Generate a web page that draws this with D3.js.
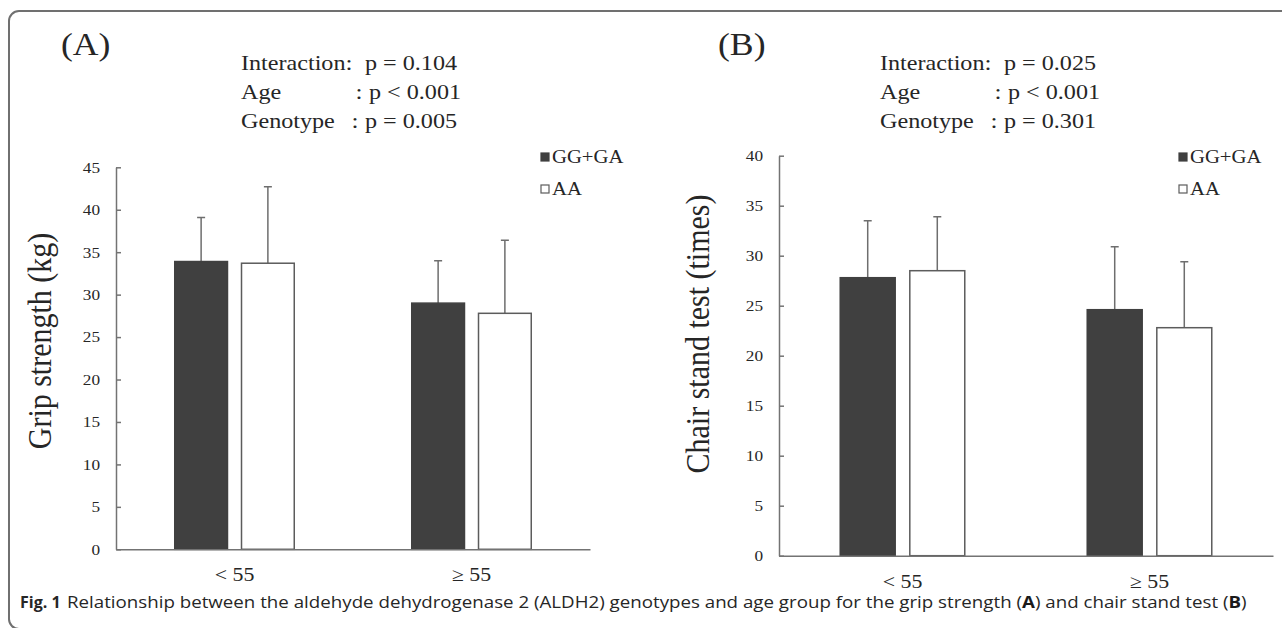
<!DOCTYPE html>
<html>
<head>
<meta charset="utf-8">
<script src="https://cdn.jsdelivr.net/npm/d3@7"></script>
<style>
  body { margin: 0; background: #fff; }
  svg { display: block; }
  text { font-family: "Liberation Serif", "Times New Roman", serif; fill: #262626; }
</style>
</head>
<body>
<div id="chart"></div>
<script>
// data
const ageGroups = ["< 55", "≥ 55"];
const genotypes = ["GG+GA", "AA"];

const gripMeanGG = [33.9, 29.0];
const gripMeanAA = [33.7, 27.8];
const gripSdGG = [5.2, 5.0];
const gripSdAA = [9.0, 8.6];

const chairMeanGG = [27.8, 24.6];
const chairMeanAA = [28.5, 22.8];
const chairSdGG = [5.7, 6.3];
const chairSdAA = [5.4, 6.6];

const gripTicks = [0, 5, 10, 15, 20, 25, 30, 35, 40, 45];
const chairTicks = [0, 5, 10, 15, 20, 25, 30, 35, 40];

const statLabels = ["Interaction", "Age", "Genotype"];
const gripP = ["p = 0.104", "p < 0.001", "p = 0.005"];
const chairP = ["p = 0.025", "p < 0.001", "p = 0.301"];

const width = 1282, height = 628;
const S = 1.15; // the figure text is a bit stretched sideways

const svg = d3.select("#chart").append("svg")
    .attr("width", width)
    .attr("height", height);

// frame round the figure
svg.append("rect")
    .attr("x", 9).attr("y", 11)
    .attr("width", 1320).attr("height", 618)
    .attr("rx", 10)
    .attr("fill", "none")
    .attr("stroke", "#707070")
    .attr("stroke-width", 2);

function stretchText(g, x, y, str, size) {
  return g.append("text")
      .attr("transform", `translate(${x},${y}) scale(${S},1)`)
      .style("font-size", size + "px")
      .text(str);
}

function rows(meanGG, meanAA, sdGG, sdAA) {
  return ageGroups.map((age, i) => ({
    age: age,
    bars: [
      { g: genotypes[0], mean: meanGG[i], sd: sdGG[i] },
      { g: genotypes[1], mean: meanAA[i], sd: sdAA[i] }
    ]
  }));
}

const panels = [
  { letter: "(A)", letterX: 61, statX: 241, pvals: gripP,
    title: "Grip strength (kg)", titleX: 51, titleY: 341,
    x0: 116, x1: 590, yTop: 167.3, yBottom: 549.3, yMax: 45, ticks: gripTicks,
    legendX: 541,
    data: rows(gripMeanGG, gripMeanAA, gripSdGG, gripSdAA) },
  { letter: "(B)", letterX: 718, statX: 880, pvals: chairP,
    title: "Chair stand test (times)", titleX: 709, titleY: 334,
    x0: 779, x1: 1273, yTop: 155.7, yBottom: 555.7, yMax: 40, ticks: chairTicks,
    legendX: 1179,
    data: rows(chairMeanGG, chairMeanAA, chairSdGG, chairSdAA) }
];

// colon and value offsets follow the spacing of the original lines
const colonDx = [108, 118, 114];
const valueDx = [124, 128, 124];

panels.forEach(p => {
  const g = svg.append("g");

  // panel letter and p values
  stretchText(g, p.letterX, 55, p.letter, 31);
  statLabels.forEach((lab, i) => {
    const y = 70 + i * 29;
    stretchText(g, p.statX, y, lab, 21);
    stretchText(g, p.statX + colonDx[i], y, ":", 22).attr("text-anchor", "middle");
    stretchText(g, p.statX + valueDx[i], y, p.pvals[i], 21);
  });

  const x = d3.scaleBand()
      .domain(ageGroups)
      .range([p.x0, p.x1])
      .padding(0);

  const xInner = d3.scaleBand()
      .domain(genotypes)
      .range([0, x.bandwidth()])
      .paddingInner(0.21)
      .paddingOuter(0.88);

  const y = d3.scaleLinear()
      .domain([0, p.yMax])
      .range([p.yBottom, p.yTop]);

  const fill = d3.scaleOrdinal().domain(genotypes).range(["#404040", "#ffffff"]);
  const edge = d3.scaleOrdinal().domain(genotypes).range(["#404040", "#5c5c5c"]);

  const groups = g.selectAll(".grp")
      .data(p.data)
      .enter()
      .append("g")
      .attr("class", "grp")
      .attr("transform", d => `translate(${x(d.age)},0)`);

  // error bars (upper whisker only)
  groups.selectAll(".err")
      .data(d => d.bars)
      .enter()
      .append("path")
      .attr("class", "err")
      .attr("d", d => {
        const cx = xInner(d.g) + xInner.bandwidth() / 2;
        return `M${cx},${y(d.mean)}V${y(d.mean + d.sd)}M${cx - 4},${y(d.mean + d.sd)}H${cx + 4}`;
      })
      .attr("fill", "none")
      .attr("stroke", "#6e6e6e")
      .attr("stroke-width", 1.5);

  groups.selectAll(".bar")
      .data(d => d.bars)
      .enter()
      .append("rect")
      .attr("class", "bar")
      .attr("x", d => xInner(d.g))
      .attr("y", d => y(d.mean))
      .attr("width", xInner.bandwidth())
      .attr("height", d => y(0) - y(d.mean))
      .attr("fill", d => fill(d.g))
      .attr("stroke", d => edge(d.g))
      .attr("stroke-width", 1.5);

  // y axis, ticks point inwards
  const yAxis = g.append("g")
      .attr("transform", `translate(${p.x0},0)`)
      .call(d3.axisLeft(y).tickValues(p.ticks).tickSizeInner(-5).tickSizeOuter(0).tickPadding(16));
  yAxis.select(".domain").attr("stroke", "#737373").attr("stroke-width", 1.5);
  yAxis.selectAll(".tick line").attr("stroke", "#737373").attr("stroke-width", 1.5);
  yAxis.selectAll(".tick text")
      .attr("x", -16 / S)
      .attr("transform", `scale(${S},1)`)
      .style("font-size", "15px")
      .style("font-family", "Liberation Serif")
      .attr("fill", "#333");

  // x axis, no ticks
  const xAxis = g.append("g")
      .attr("transform", `translate(0,${y(0)})`)
      .call(d3.axisBottom(x).tickSize(0).tickPadding(0));
  xAxis.select(".domain").attr("stroke", "#737373").attr("stroke-width", 1.5);
  xAxis.selectAll(".tick text")
      .attr("dy", null)
      .attr("y", 32)
      .attr("transform", `scale(${S},1)`)
      .style("font-size", "19px")
      .style("font-family", "Liberation Serif")
      .attr("fill", "#333");

  // axis title
  g.append("text")
      .attr("transform", `translate(${p.titleX},${p.titleY}) scale(${S},1) rotate(-90)`)
      .attr("text-anchor", "middle")
      .style("font-size", "30px")
      .text(p.title);

  // legend
  const leg = g.selectAll(".leg")
      .data(genotypes)
      .enter()
      .append("g")
      .attr("class", "leg")
      .attr("transform", (d, i) => `translate(${p.legendX},${163 + i * 32})`);
  leg.append("rect")
      .attr("x", 0).attr("y", -10)
      .attr("width", 8).attr("height", 8)
      .attr("fill", d => fill(d))
      .attr("stroke", d => edge(d))
      .attr("stroke-width", 1.2);
  leg.append("text")
      .attr("transform", `translate(11,0) scale(${S},1)`)
      .style("font-size", "18px")
      .text(d => d);
});

// caption
const cap = svg.append("g").style("font-family", "'Open Sans', 'Noto Sans', sans-serif");
cap.append("text")
    .attr("x", 20).attr("y", 608)
    .style("font-family", "inherit")
    .style("font-size", "16px")
    .style("font-weight", "bold")
    .attr("fill", "#1a1a1a")
    .text("Fig. 1");
const capText = cap.append("text")
    .attr("y", 608)
    .style("font-family", "inherit")
    .style("font-size", "16px")
    .attr("fill", "#333");
capText.append("tspan").text("Relationship between the aldehyde dehydrogenase 2 (ALDH2) genotypes and age group for the grip strength (");
capText.append("tspan").style("font-weight", "bold").attr("fill", "#1a1a1a").text("A");
capText.append("tspan").text(") and chair stand test (");
capText.append("tspan").style("font-weight", "bold").attr("fill", "#1a1a1a").text("B");
capText.append("tspan").text(")");
const capStart = 67, capEnd = 1247;
const w = capText.node().getComputedTextLength();
capText.attr("transform", `translate(${capStart},0) scale(${(capEnd - capStart) / w},1)`);
</script>
</body>
</html>
